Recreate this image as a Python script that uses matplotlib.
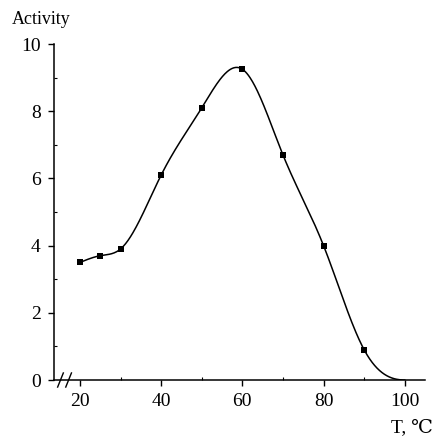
import numpy as np
import matplotlib
matplotlib.use('Agg')
import matplotlib.pyplot as plt
from matplotlib.ticker import MultipleLocator
import matplotlib.transforms as mtransforms

plt.rcParams['font.family'] = ['Liberation Serif', 'DejaVu Serif']

# measured points
temps = [20, 25, 30, 40, 50, 60, 70, 80, 90]
activity = [3.5, 3.7, 3.9, 6.1, 8.1, 9.25, 6.7, 4.0, 0.9]
# the curve runs on to zero at 100 (no marker there)
curve_end_t = 100
curve_end_a = 0.0


def cubic_spline(x, y, end_slope=0.0):
    # natural at the left end, clamped slope at the right end
    x = np.asarray(x, float)
    y = np.asarray(y, float)
    n = len(x)
    h = np.diff(x)
    A = np.zeros((n, n))
    b = np.zeros(n)
    A[0, 0] = 1.0
    for i in range(1, n - 1):
        A[i, i - 1] = h[i - 1]
        A[i, i] = 2 * (h[i - 1] + h[i])
        A[i, i + 1] = h[i]
        b[i] = 6 * ((y[i + 1] - y[i]) / h[i] - (y[i] - y[i - 1]) / h[i - 1])
    A[-1, -2] = h[-1]
    A[-1, -1] = 2 * h[-1]
    b[-1] = 6 * (end_slope - (y[-1] - y[-2]) / h[-1])
    M = np.linalg.solve(A, b)

    def f(xx):
        xx = np.asarray(xx, float)
        k = np.clip(np.searchsorted(x, xx) - 1, 0, n - 2)
        x0, x1 = x[k], x[k + 1]
        hk = x1 - x0
        t0 = x1 - xx
        t1 = xx - x0
        return (M[k] * t0 ** 3 / (6 * hk) + M[k + 1] * t1 ** 3 / (6 * hk)
                + (y[k] / hk - M[k] * hk / 6) * t0
                + (y[k + 1] / hk - M[k + 1] * hk / 6) * t1)
    return f


fig = plt.figure(figsize=(4.4, 4.41), dpi=100)
ax = fig.add_axes([0.1227, 0.1383, 0.8433, 0.7619])

xs = temps + [curve_end_t]
ys = activity + [curve_end_a]
spl = cubic_spline(xs, ys)
tt = np.linspace(xs[0], xs[-1], 400)
ax.plot(tt, spl(tt), color='black', lw=1.1)
ax.plot(temps, activity, 's', color='black', ms=3.8, mew=0)

ax.set_xlim(13.6, 105.0)
ax.set_ylim(0, 10)
ax.spines['top'].set_visible(False)
ax.spines['right'].set_visible(False)
ax.spines['left'].set_linewidth(1.1)
ax.spines['bottom'].set_linewidth(1.1)

ax.set_xticks([20, 40, 60, 80, 100])
ax.xaxis.set_minor_locator(MultipleLocator(10))
ax.yaxis.set_major_locator(MultipleLocator(2))
ax.yaxis.set_minor_locator(MultipleLocator(1))
ax.tick_params(which='major', direction='out', length=4.5, width=1.0,
               labelsize=14, pad=5)
ax.tick_params(which='minor', direction='in', length=2, width=0.8)

# axis break marks
trans = mtransforms.blended_transform_factory(ax.transData, ax.transAxes)
for xb in [15.2, 17.2]:
    ax.plot([xb - 0.7, xb + 0.7], [-0.021, 0.021], color='black', lw=1.0,
            transform=trans, clip_on=False)

fig.text(0.028, 0.955, 'Activity', fontsize=13, ha='left', va='center')
fig.text(0.985, 0.03, 'T, ℃', fontsize=14, ha='right', va='center')

fig.savefig('out.png', dpi=100)
